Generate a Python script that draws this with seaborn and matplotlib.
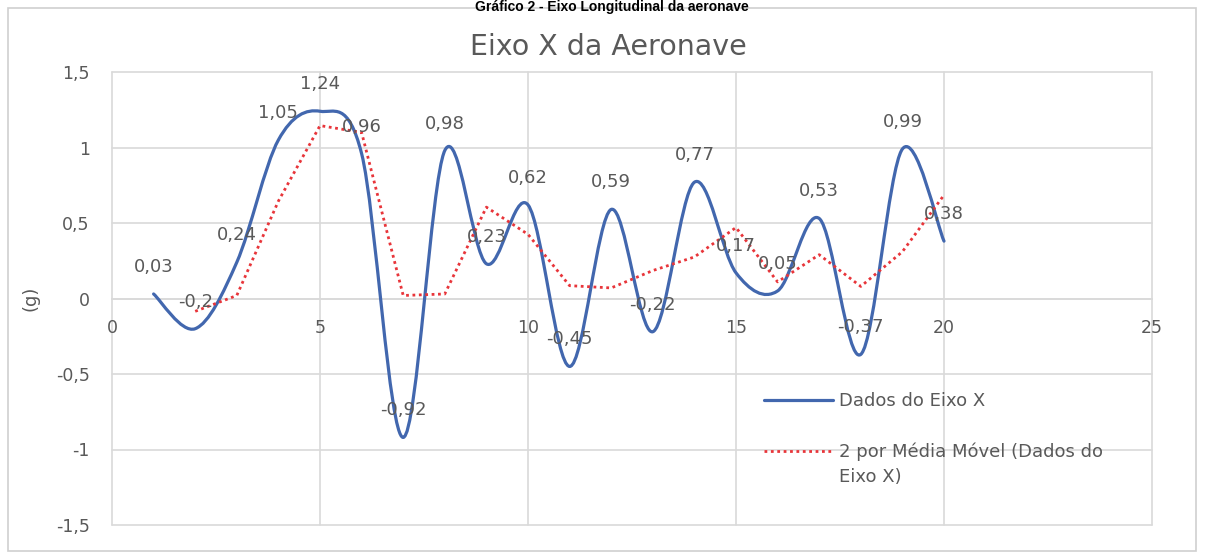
import matplotlib
matplotlib.use("Agg")
import matplotlib.pyplot as plt
from matplotlib.path import Path
from matplotlib.patches import PathPatch, Rectangle
from matplotlib.lines import Line2D
import seaborn as sns

# Acceleration readings along the aircraft X axis (g)
amostras = list(range(1, 21))
eixo_x = [0.03, -0.20, 0.24, 1.05, 1.24, 0.96, -0.92, 0.98, 0.23, 0.62,
          -0.45, 0.59, -0.22, 0.77, 0.17, 0.05, 0.53, -0.37, 0.99, 0.38]

# 2-period moving average trendline
amostras_mm = list(range(2, 21))
media_movel = [-0.085, 0.02, 0.645, 1.145, 1.10, 0.02, 0.03, 0.605, 0.425,
               0.085, 0.07, 0.185, 0.275, 0.47, 0.11, 0.29, 0.08, 0.31, 0.685]

x_ticks = [0, 5, 10, 15, 20, 25]
y_ticks = [-1.5, -1.0, -0.5, 0.0, 0.5, 1.0, 1.5]
y_tick_labels = ["-1,5", "-1", "-0,5", "0", "0,5", "1", "1,5"]

sns.set_theme(style="white")
plt.rcParams["font.family"] = ["DejaVu Sans"]

GRAY_TXT = "#595959"
GRID = "#D9D9D9"
BLUE = "#4267AE"
RED = "#E8353A"

W, H = 1207, 554
fig = plt.figure(figsize=(W / 100, H / 100), dpi=100)
fig.patch.set_facecolor("white")

# outer chart frame
fig.patches.append(Rectangle((8 / W, 1 - 551 / H), (1196 - 8) / W, (551 - 8) / H,
                             transform=fig.transFigure, fill=False,
                             ec="#CFCFCF", lw=1.2))

fig.text(612 / W, 1 - 0.5 / H, "Gráfico 2 - Eixo Longitudinal da aeronave",
         ha="center", va="top", fontsize=10, fontweight="bold",
         family="Liberation Sans", color="black")

ax = fig.add_axes([112 / W, 1 - 525 / H, 1040 / W, 453 / H])
ax.set_xlim(0, 25)
ax.set_ylim(-1.5, 1.5)

# grid
for xv in x_ticks:
    ax.axvline(xv, color=GRID, lw=1.2, zorder=0, clip_on=False)
for yv in y_ticks:
    ax.axhline(yv, color=GRID, lw=1.2, zorder=0, clip_on=False)

for s in ["top", "right", "left"]:
    ax.spines[s].set_visible(False)
ax.spines["bottom"].set_position(("data", 0))
ax.spines["bottom"].set_color(GRID)
ax.spines["bottom"].set_linewidth(1.2)

ax.set_xticks(x_ticks)
ax.set_xticklabels([str(v) for v in x_ticks])
ax.set_yticks(y_ticks)
ax.set_yticklabels(y_tick_labels)
ax.tick_params(axis="x", length=0, pad=15, labelsize=12.5, labelcolor=GRAY_TXT)
ax.tick_params(axis="y", length=0, pad=16, labelsize=12.5, labelcolor=GRAY_TXT)
ax.set_ylabel("(g)", fontsize=13, color=GRAY_TXT, labelpad=12)

# smoothed series: cubic Bezier segments (Catmull-Rom tangents)
n = len(amostras)
verts = [(amostras[0], eixo_x[0])]
codes = [Path.MOVETO]
for i in range(n - 1):
    p0 = (amostras[max(i - 1, 0)], eixo_x[max(i - 1, 0)])
    p1 = (amostras[i], eixo_x[i])
    p2 = (amostras[i + 1], eixo_x[i + 1])
    p3 = (amostras[min(i + 2, n - 1)], eixo_x[min(i + 2, n - 1)])
    c1 = (p1[0] + (p2[0] - p0[0]) / 6, p1[1] + (p2[1] - p0[1]) / 6)
    c2 = (p2[0] - (p3[0] - p1[0]) / 6, p2[1] - (p3[1] - p1[1]) / 6)
    verts += [c1, c2, p2]
    codes += [Path.CURVE4] * 3
ax.add_patch(PathPatch(Path(verts, codes), fill=False, ec=BLUE, lw=2.3,
                       capstyle="round", joinstyle="round", zorder=3))

sns.lineplot(x=amostras_mm, y=media_movel, ax=ax, color=RED, lw=2.0,
             linestyle=(0, (1, 1.3)), zorder=4, legend=False)

# value labels
for xv, yv in zip(amostras, eixo_x):
    ax.annotate(("%g" % yv).replace(".", ","), (xv, yv), xytext=(0, 27),
                textcoords="offset pixels", ha="center", va="center",
                fontsize=13, color=GRAY_TXT, zorder=5)

fig.text(608 / W, 1 - 47 / H, "Eixo X da Aeronave", ha="center", va="center",
         fontsize=20.5, color=GRAY_TXT)

handles = [Line2D([], [], color=BLUE, lw=2.3),
           Line2D([], [], color=RED, lw=2.0, linestyle=(0, (1, 1.3)))]
labels = ["Dados do Eixo X", "2 por Média Móvel (Dados do"]
leg = ax.legend(handles, labels, loc="upper left",
                bbox_to_anchor=(748 / W, 1 - 376 / H),
                bbox_transform=fig.transFigure, frameon=False,
                fontsize=13, handlelength=3.8, handletextpad=0.35,
                labelspacing=1.8, labelcolor=GRAY_TXT)

# continuation line of the second legend entry
fig.canvas.draw()
bb = leg.get_texts()[1].get_window_extent()
fig.text(bb.x0 / W, (bb.y0 - 7) / H, "Eixo X)", ha="left", va="top",
         fontsize=13, color=GRAY_TXT)

fig.savefig("out.png", dpi=100)
